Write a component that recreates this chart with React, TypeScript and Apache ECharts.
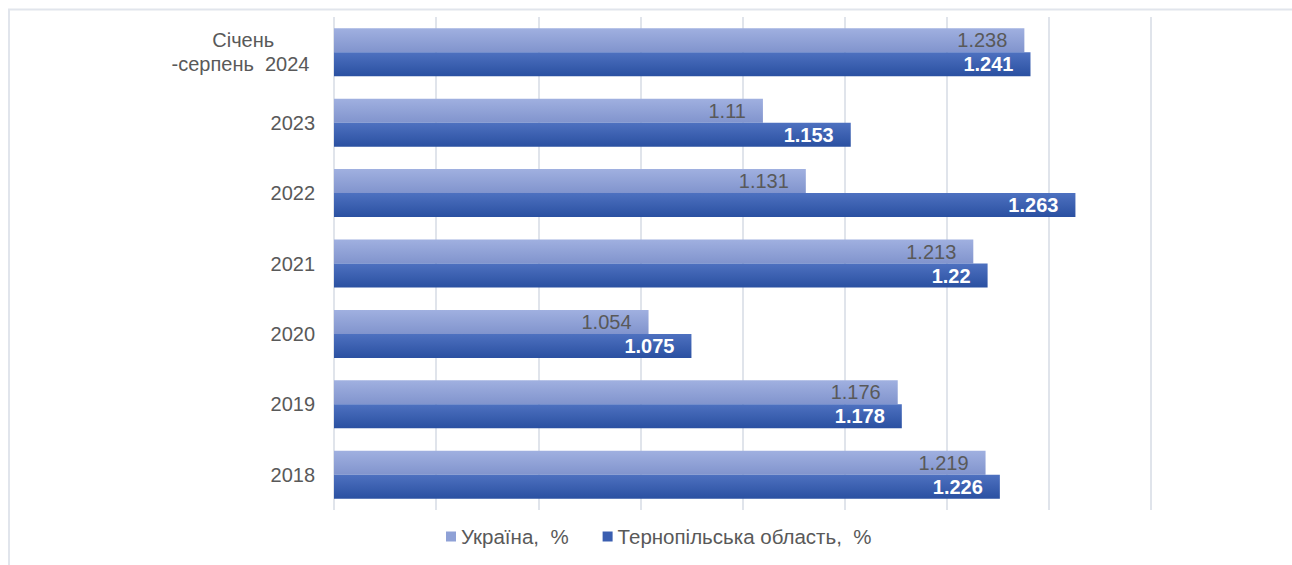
import React, { useEffect, useRef } from "react";
import * as echarts from "echarts";

const categories = ["2018", "2019", "2020", "2021", "2022", "2023", "Січень\n-серпень  2024 "];
const ukraine = [1.219, 1.176, 1.054, 1.213, 1.131, 1.11, 1.238];
const ternopil = [1.226, 1.178, 1.075, 1.22, 1.263, 1.153, 1.241];
const seriesNames = ["Україна, %", "Тернопільська область, %"];

const FONT = "'Liberation Sans', Arial, sans-serif";

export default function App() {
  const ref = useRef<HTMLDivElement>(null);
  useEffect(() => {
    if (!ref.current) return;
    const chart = echarts.init(ref.current, undefined, { renderer: "svg" });
    const ukrGrad = new echarts.graphic.LinearGradient(0, 0, 0, 1, [
      { offset: 0, color: "#a0b0e0" },
      { offset: 1, color: "#8194cd" },
    ]);
    const terGrad = new echarts.graphic.LinearGradient(0, 0, 0, 1, [
      { offset: 0, color: "#4e71c0" },
      { offset: 1, color: "#2a50a1" },
    ]);
    chart.setOption({
      animation: false,
      textStyle: { fontFamily: FONT },
      graphic: [
        {
          type: "rect",
          shape: { x: 9, y: 9.5, width: 1400, height: 700 },
          style: { fill: "none", stroke: "#e1e5ec", lineWidth: 2 },
          silent: true,
        },
      ],
      grid: { left: 334, right: 141, top: 17, bottom: 55 },
      legend: {
        top: 521,
        left: 441,
        icon: "rect",
        itemWidth: 10,
        itemHeight: 10,
        itemGap: 34,
        formatter: (name: string) => name.replace(", %", ",  %"),
        textStyle: { fontSize: 20.5, color: "#595959", fontFamily: FONT },
        data: [
          { name: seriesNames[0], itemStyle: { color: "#8fa1d6" } },
          { name: seriesNames[1], itemStyle: { color: "#3a5eb0" } },
        ],
      },
      xAxis: {
        type: "value",
        min: 0.9,
        max: 1.3,
        interval: 0.05,
        axisLabel: { show: false },
        axisLine: { show: false },
        axisTick: { show: false },
        splitLine: { lineStyle: { color: "#e0e4eb", width: 2 } },
      },
      yAxis: {
        type: "category",
        data: categories,
        axisTick: { show: false },
        axisLine: { show: false },
        axisLabel: {
          fontSize: 20,
          color: "#595959",
          margin: 19,
          fontFamily: FONT,
          lineHeight: 24,
          formatter: (v: string) =>
            v
              .split("\n")
              .map((l) => "{c|" + l + "}")
              .join("\n"),
          rich: {
            c: { fontSize: 20, color: "#595959", align: "center", fontFamily: FONT, lineHeight: 24 },
          },
        },
      },
      series: [
        {
          name: seriesNames[0],
          type: "bar",
          data: ukraine,
          barWidth: 24,
          barGap: "0%",
          itemStyle: { color: ukrGrad },
          label: {
            show: true,
            position: "insideRight",
            distance: 17,
            color: "#595959",
            fontSize: 20,
            fontFamily: FONT,
          },
        },
        {
          name: seriesNames[1],
          type: "bar",
          data: ternopil,
          barWidth: 24,
          barGap: "0%",
          itemStyle: { color: terGrad },
          label: {
            show: true,
            position: "insideRight",
            distance: 17,
            color: "#ffffff",
            fontWeight: "bold",
            fontSize: 20,
            fontFamily: FONT,
          },
        },
      ],
    });
    return () => chart.dispose();
  }, []);
  return (
    <div
      ref={ref}
      style={{ position: "absolute", left: 0, top: 0, width: 1292, height: 565, background: "#fff" }}
    />
  );
}
